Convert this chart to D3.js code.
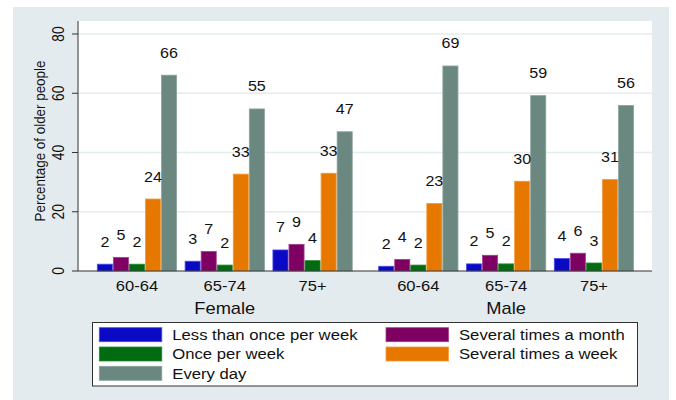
<!DOCTYPE html>
<html>
<head>
<meta charset="utf-8">
<script src="https://cdn.jsdelivr.net/npm/d3@7"></script>
<style>
  body { margin: 0; background: #fff; }
  text { font-family: "Liberation Sans", Arial, sans-serif; fill: #111; }
</style>
</head>
<body>
<div id="chart"></div>
<script>
// data
var sexes = ['Female', 'Male'];
var ages = ['60-64', '65-74', '75+'];
var categories = ['Less than once per week', 'Several times a month', 'Once per week',
                  'Several times a week', 'Every day'];
var colors = ['#0a0ac4', '#7d0062', '#006b10', '#e67800', '#6b8880'];
var strokes = ['#4a4aee', '#a0408a', '#2a8a35', '#f59a3a', '#8aa39d'];

// one array per category, order: Female 60-64, 65-74, 75+, Male 60-64, 65-74, 75+
var lessThanOnce  = [2.3, 3.3, 7.1, 1.6, 2.4, 4.2];
var severalMonth  = [4.6, 6.6, 9.0, 3.9, 5.3, 6.0];
var oncePerWeek   = [2.3, 2.0, 3.5, 2.0, 2.4, 2.7];
var severalWeek   = [24.3, 32.7, 33.0, 22.8, 30.3, 30.9];
var everyDay      = [66.1, 54.7, 47.0, 69.2, 59.2, 55.9];
var seriesValues = [lessThanOnce, severalMonth, oncePerWeek, severalWeek, everyDay];
var yTicks = [0, 20, 40, 60, 80];

var W = 676, H = 400;
var plot = {left: 78, right: 652, top: 21, bottom: 271};
var sx = 1.15; // horizontal stretch of the text in the picture

var svg = d3.select('#chart').append('svg')
    .attr('width', W)
    .attr('height', H);

// graph region and plot region
svg.append('rect')
    .attr('x', 13).attr('y', 7)
    .attr('width', 656).attr('height', 393)
    .attr('fill', '#e4ebef');
svg.append('rect')
    .attr('x', plot.left).attr('y', plot.top)
    .attr('width', plot.right - plot.left).attr('height', plot.bottom - plot.top)
    .attr('fill', '#ffffff');

function label(g, x, y, txt, size, anchor, rot) {
    return g.append('text')
        .attr('transform', 'translate(' + x + ',' + y + ') scale(' + sx + ',1)' + (rot ? ' rotate(-90)' : ''))
        .attr('text-anchor', anchor)
        .attr('font-size', size)
        .text(txt);
}

// scales
var y = d3.scaleLinear().domain([0, 80]).range([plot.bottom, 34]);
var x0 = d3.scaleBand().domain(sexes).range([97.3, 633.6]).paddingInner(0.094);
var x1 = d3.scaleBand().domain(ages).range([0, x0.bandwidth()]).paddingInner(0.097);
var x2 = d3.scaleBand().domain(categories).range([0, x1.bandwidth()]).paddingInner(0.06);

// gridlines
svg.selectAll('.grid')
    .data(yTicks.filter(function(d) { return d > 0; }))
    .enter().append('line')
    .attr('x1', plot.left).attr('x2', plot.right)
    .attr('y1', function(d) { return y(d); })
    .attr('y2', function(d) { return y(d); })
    .attr('stroke', '#e3ecef')
    .attr('stroke-width', 1.5);

// bars
var rows = [];
sexes.forEach(function(s, si) {
    ages.forEach(function(a, ai) {
        categories.forEach(function(c, ci) {
            rows.push({sex: s, age: a, cat: c, ci: ci, v: seriesValues[ci][si * 3 + ai]});
        });
    });
});
function barX(d) { return x0(d.sex) + x1(d.age) + x2(d.cat); }

svg.selectAll('.bar')
    .data(rows)
    .enter().append('rect')
    .attr('x', barX)
    .attr('y', function(d) { return y(d.v); })
    .attr('width', x2.bandwidth())
    .attr('height', function(d) { return y(0) - y(d.v); })
    .attr('fill', function(d) { return colors[d.ci]; })
    .attr('stroke', function(d) { return strokes[d.ci]; })
    .attr('stroke-width', 0.8);

// bar labels
var fmt = d3.format('.0f');
rows.forEach(function(d) {
    label(svg, barX(d) + x2.bandwidth() / 2, y(d.v) - 17.5, fmt(d.v), 14, 'middle');
});

// y axis
svg.append('line')
    .attr('x1', plot.left).attr('x2', plot.left)
    .attr('y1', plot.top).attr('y2', plot.bottom)
    .attr('stroke', '#333').attr('stroke-width', 1);
yTicks.forEach(function(t) {
    svg.append('line')
        .attr('x1', 72).attr('x2', plot.left)
        .attr('y1', y(t)).attr('y2', y(t))
        .attr('stroke', '#333').attr('stroke-width', 1);
    label(svg, 64, y(t), t, 13.8, 'middle', true);
});
label(svg, 45, 141, 'Percentage of older people', 13.4, 'middle', true);

// x baseline
svg.append('line')
    .attr('x1', plot.left).attr('x2', plot.right)
    .attr('y1', plot.bottom).attr('y2', plot.bottom)
    .attr('stroke', '#333').attr('stroke-width', 1.2);

// age and sex labels
sexes.forEach(function(s) {
    ages.forEach(function(a) {
        label(svg, x0(s) + x1(a) + x1.bandwidth() / 2, 290.5, a, 14.4, 'middle');
    });
    label(svg, x0(s) + x0.bandwidth() / 2, 314, s, 15.9, 'middle');
});

// legend
svg.append('rect')
    .attr('x', 92.5).attr('y', 322.5)
    .attr('width', 545).attr('height', 63.5)
    .attr('fill', '#fff')
    .attr('stroke', '#333').attr('stroke-width', 1);

var legCols = [99.3, 386];
var legendItem = svg.selectAll('.legendItem')
    .data(categories)
    .enter().append('g')
    .attr('transform', function(d, i) {
        return 'translate(' + legCols[i % 2] + ',' + (334.7 + Math.floor(i / 2) * 19.3) + ')';
    });
legendItem.append('rect')
    .attr('x', 0).attr('y', -7)
    .attr('width', 62.5).attr('height', 14)
    .attr('fill', function(d, i) { return colors[i]; })
    .attr('stroke', function(d, i) { return strokes[i]; })
    .attr('stroke-width', 0.8);
legendItem.each(function(d) {
    label(d3.select(this), 73, 5.2, d, 14.5, 'start');
});
</script>
</body>
</html>
